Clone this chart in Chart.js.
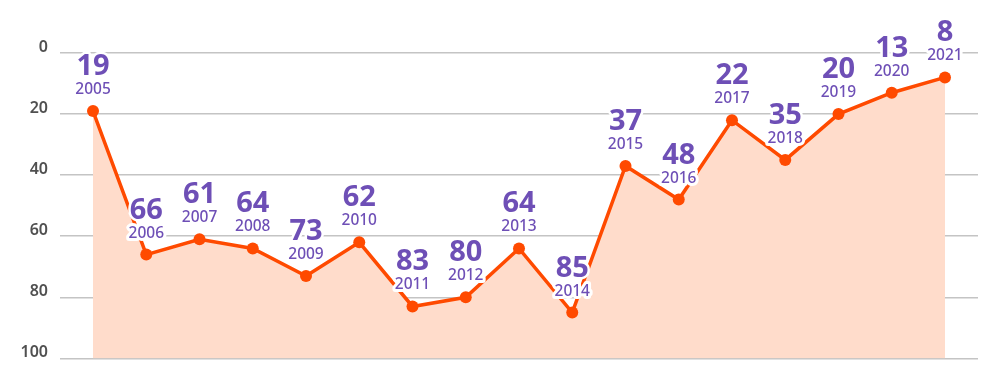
<!DOCTYPE html>
<html>
<head>
<meta charset="utf-8">
<script src="https://cdn.jsdelivr.net/npm/chart.js@4/dist/chart.umd.min.js"></script>
<style>
  html, body { margin: 0; padding: 0; background: #fff; }
  #wrap { width: 1000px; height: 380px; position: relative; }
</style>
</head>
<body>
<div id="wrap"><canvas id="rankChart"></canvas></div>
<script>
const years = [2005, 2006, 2007, 2008, 2009, 2010, 2011, 2012, 2013, 2014, 2015, 2016, 2017, 2018, 2019, 2020, 2021];
const ranks = [19, 66, 61, 64, 73, 62, 83, 80, 64, 85, 37, 48, 22, 35, 20, 13, 8];
const yTicks = [0, 20, 40, 60, 80, 100];

const LINE_COLOR = '#ff4a00';
const FILL_COLOR = '#ffdccb';
const LABEL_COLOR = '#6e4fb6';

// value + year label above each point, with a white halo
const pointLabels = {
    id: 'pointLabels',
    afterDatasetsDraw(chart) {
        const ctx = chart.ctx;
        const meta = chart.getDatasetMeta(0);
        ctx.save();
        ctx.textAlign = 'center';
        ctx.textBaseline = 'alphabetic';
        ctx.lineJoin = 'round';
        ctx.strokeStyle = '#fff';
        meta.data.forEach((pt, i) => {
            ctx.font = '500 15.5px "Noto Sans"';
            ctx.lineWidth = 6;
            ctx.strokeText(String(years[i]), pt.x, pt.y - 17);
            ctx.fillStyle = LABEL_COLOR;
            ctx.fillText(String(years[i]), pt.x, pt.y - 17);
            ctx.font = 'bold 29px "Noto Sans"';
            ctx.lineWidth = 5;
            ctx.strokeText(String(ranks[i]), pt.x, pt.y - 36);
            ctx.fillText(String(ranks[i]), pt.x, pt.y - 36);
        });
        ctx.restore();
    }
};

new Chart(document.getElementById('rankChart'), {
    type: 'line',
    data: {
        datasets: [{
            data: years.map((y, i) => ({ x: y, y: ranks[i] })),
            borderColor: LINE_COLOR,
            backgroundColor: FILL_COLOR,
            borderWidth: 3.5,
            tension: 0,
            fill: { value: 100 },
            pointRadius: 6,
            pointBackgroundColor: LINE_COLOR,
            pointBorderColor: LINE_COLOR,
            pointBorderWidth: 0
        }]
    },
    options: {
        responsive: true,
        maintainAspectRatio: false,
        animation: false,
        layout: { padding: { top: 53, right: 22, bottom: 21, left: 0 } },
        plugins: {
            legend: { display: false },
            tooltip: { enabled: false }
        },
        scales: {
            x: {
                type: 'linear',
                min: 2004.38,
                max: 2021.62,
                display: false
            },
            y: {
                reverse: true,
                min: 0,
                max: 100,
                afterBuildTicks: (scale) => {
                    scale.ticks = yTicks.map(v => ({ value: v }));
                },
                afterFit: (scale) => { scale.width = 60; },
                border: { display: false },
                grid: {
                    color: '#c4c4c4',
                    lineWidth: 1.5,
                    drawTicks: false
                },
                ticks: {
                    color: '#505050',
                    padding: 12,
                    labelOffset: -6,
                    font: { family: '"Noto Sans"', size: 16, weight: '600' }
                }
            }
        }
    },
    plugins: [pointLabels]
});
</script>
</body>
</html>
